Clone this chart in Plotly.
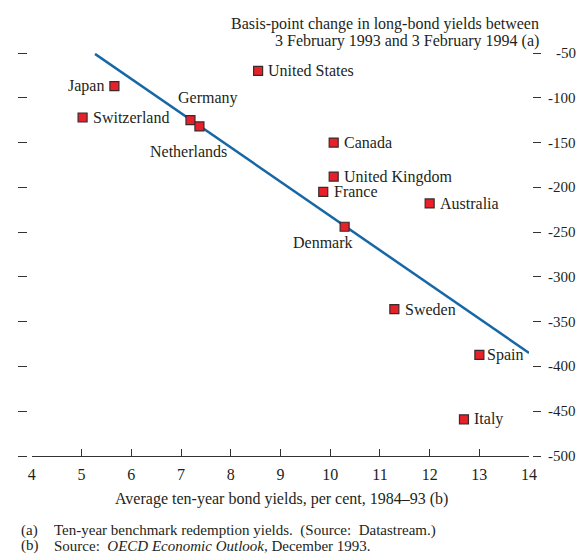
import plotly.graph_objects as go

# ---- data ----
countries = ["Japan", "United States", "Germany", "Switzerland", "Netherlands",
             "Canada", "United Kingdom", "France", "Australia", "Denmark",
             "Sweden", "Spain", "Italy"]
avg_yield = [5.66, 8.55, 7.19, 5.02, 7.37, 10.07, 10.07, 9.86, 12.0, 10.29,
             11.29, 13.0, 12.69]
bp_change = [-87, -70, -125, -122, -132, -150, -188, -205, -218, -244,
             -336, -387, -459]
fit_x = [5.27, 14.0]
fit_y = [-51, -385]
x_ticks = [4, 5, 6, 7, 8, 9, 10, 11, 12, 13, 14]
y_ticks = [-50, -100, -150, -200, -250, -300, -350, -400, -450, -500]

# label placement (anchor, xshift, yshift) per country
label_pos = {
    "Japan": ("right", -8, 0),
    "United States": ("left", 8, 0),
    "Germany": ("center", 18, 22),
    "Switzerland": ("left", 8, 0),
    "Netherlands": ("center", -11, -25),
    "Canada": ("left", 8, 0),
    "United Kingdom": ("left", 8, 0),
    "France": ("left", 9, 0),
    "Australia": ("left", 8, 0),
    "Denmark": ("center", -22, -16),
    "Sweden": ("left", 9, 0),
    "Spain": ("left", 6, 0),
    "Italy": ("left", 8, 0),
}

FONT = "Liberation Serif, Times New Roman, serif"
TXT = "#231f20"

fig = go.Figure()
fig.add_trace(go.Scatter(x=fit_x, y=fit_y, mode="lines",
                         line=dict(color="#1567a6", width=2.5),
                         hoverinfo="skip", showlegend=False))
fig.add_trace(go.Scatter(x=avg_yield, y=bp_change, mode="markers",
                         marker=dict(symbol="square", size=9, color="#e8202a",
                                     line=dict(color="#3a2b2b", width=1.2)),
                         text=countries, showlegend=False, cliponaxis=False))
# dummy trace on right axis so it renders
fig.add_trace(go.Scatter(x=[None], y=[None], yaxis="y2", showlegend=False))

annotations = []
for c, xv, yv in zip(countries, avg_yield, bp_change):
    anc, xs, ys = label_pos[c]
    annotations.append(dict(x=xv, y=yv, xref="x", yref="y", text=c,
                            showarrow=False, xanchor=anc, yanchor="middle",
                            xshift=xs, yshift=ys,
                            font=dict(family=FONT, size=16, color=TXT)))

# right-side tick labels, right aligned
for v in y_ticks:
    annotations.append(dict(x=1.066, y=v, xref="paper", yref="y", text=str(v),
                            showarrow=False, xanchor="right", yanchor="middle",
                            font=dict(family=FONT, size=15, color=TXT)))

# title lines
annotations.append(dict(x=0.9962, y=1.072, xref="paper", yref="paper",
                        text="Basis-point change in long-bond yields between",
                        showarrow=False, xanchor="right", yanchor="middle",
                        font=dict(family=FONT, size=16, color=TXT)))
annotations.append(dict(x=0.9962, y=1.029, xref="paper", yref="paper",
                        text="3 February 1993 and 3 February 1994 (a)",
                        showarrow=False, xanchor="right", yanchor="middle",
                        font=dict(family=FONT, size=16, color=TXT)))
# x axis title
annotations.append(dict(x=0.5066, y=-0.1055, xref="paper", yref="paper",
                        text="Average ten-year bond yields, per cent, 1984\u201393 (b)",
                        showarrow=False, xanchor="center", yanchor="middle",
                        font=dict(family=FONT, size=16, color=TXT)))
# footnotes
foot_y = [-0.1861, -0.2233]
foot_marks = ["(a)", "(b)"]
foot_text = ["Ten-year benchmark redemption yields.\u00a0\u00a0(Source:\u00a0\u00a0Datastream.)",
             "Source:\u00a0\u00a0<i>OECD Economic Outlook</i>, December 1993."]
for fy, fm, ft in zip(foot_y, foot_marks, foot_text):
    annotations.append(dict(x=0.0094, y=fy, xref="paper", yref="paper", text=fm,
                            showarrow=False, xanchor="left", yanchor="middle",
                            font=dict(family=FONT, size=15, color=TXT)))
    annotations.append(dict(x=0.0713, y=fy, xref="paper", yref="paper", text=ft,
                            showarrow=False, xanchor="left", yanchor="middle",
                            font=dict(family=FONT, size=15, color=TXT)))

fig.update_layout(
    width=583, height=556,
    margin=dict(l=10, r=40, t=53, b=100),
    paper_bgcolor="white", plot_bgcolor="white",
    font=dict(family=FONT, size=16, color=TXT),
    xaxis=dict(domain=[0.03377, 0.97373], range=[4, 14], tickvals=x_ticks,
               ticks="inside", ticklen=7, tickwidth=1, tickcolor="#333",
               showline=True, linecolor="#333", linewidth=1,
               showgrid=False, zeroline=False, ticklabelstandoff=4,
               tickfont=dict(family=FONT, size=16, color=TXT)),
    yaxis=dict(range=[-500, -50], tickvals=y_ticks, anchor="free",
               position=0.02439, side="left", ticks="outside", ticklen=9,
               tickwidth=1.3, tickcolor="#333", showticklabels=False,
               showline=False, showgrid=False, zeroline=False),
    yaxis2=dict(range=[-500, -50], tickvals=y_ticks, anchor="free",
                position=0.97936, side="right", overlaying="y",
                ticks="outside", ticklen=8, tickwidth=1.3, tickcolor="#333",
                showticklabels=False, showline=False, showgrid=False,
                zeroline=False),
    annotations=annotations,
)

fig.write_html("out.html", config={"displayModeBar": False},
               post_script="document.body.style.margin='0';document.body.style.padding='0';")
